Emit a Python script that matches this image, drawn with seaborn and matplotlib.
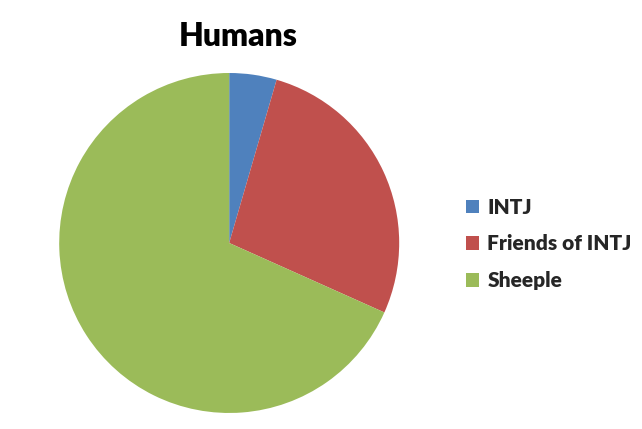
import matplotlib
matplotlib.use("Agg")
import matplotlib.pyplot as plt
import seaborn as sns
from matplotlib.patches import Patch

categories = ["INTJ", "Friends of INTJ", "Sheeple"]
values = [4.5, 27.2, 68.3]
colors = ["#4F81BD", "#C0504D", "#9BBB59"]
title = "Humans"

sns.set_theme(style="white")
plt.rcParams['font.family'] = ['Lato', 'DejaVu Sans']

fig = plt.figure(figsize=(6.42, 4.29), dpi=100)
fig.patch.set_facecolor("white")
ax = fig.add_axes([0.357 - 0.2648, 0.4336 - 0.39625, 0.5296, 0.7925])
ax.pie(values, colors=colors, startangle=90, counterclock=False,
       wedgeprops=dict(linewidth=0))
ax.set_aspect("equal")
ax.set_xlim(-1, 1)
ax.set_ylim(-1, 1)
ax.axis("off")

fig.text(238 / 642, 1 - 37 / 429, title, ha="center", va="center",
         fontsize=23, fontweight="heavy", color="black")

handles = [Patch(facecolor=c, edgecolor="none") for c in colors]
leg = fig.legend(handles, categories, loc="center left",
                 bbox_to_anchor=(466 / 642, 1 - 244 / 429),
                 frameon=False, prop=dict(weight="heavy", size=15),
                 handlelength=0.62, handleheight=0.62, handletextpad=0.4,
                 labelspacing=0.85, borderpad=0, borderaxespad=0)

fig.savefig("out.png", dpi=100, facecolor="white")
